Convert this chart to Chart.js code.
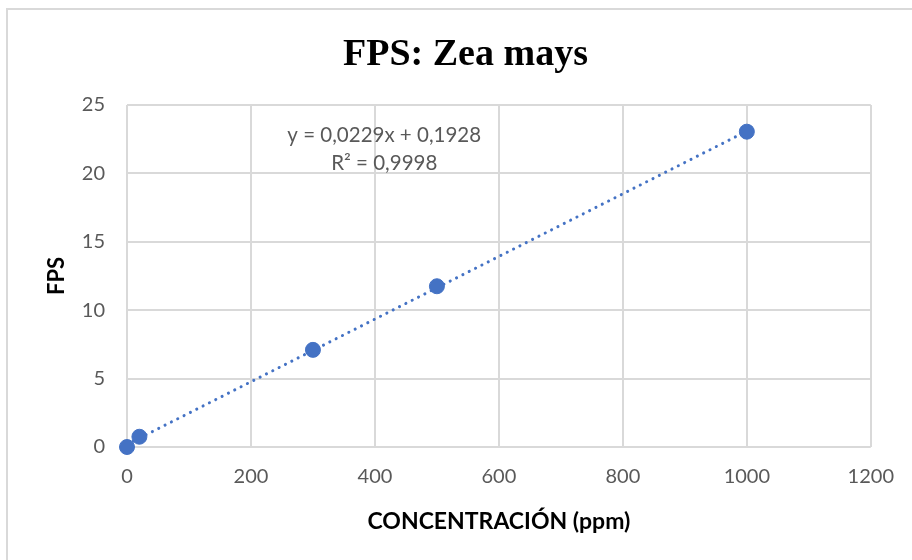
<!DOCTYPE html>
<html>
<head>
<meta charset="utf-8">
<script src="https://cdn.jsdelivr.net/npm/chart.js@4.4.0/dist/chart.umd.min.js"></script>
<style>
  html, body { margin: 0; padding: 0; background: #fff; }
  #wrap { position: relative; width: 912px; height: 560px; overflow: hidden; }
  #frame { position: absolute; left: 6px; top: 8px; width: 940px; height: 600px;
           border: 2px solid #d9d9d9; box-sizing: border-box; pointer-events: none; }
  canvas { position: absolute; left: 0; top: 0; }
</style>
</head>
<body>
<div id="wrap">
  <canvas id="c" width="912" height="560"></canvas>
  <div id="frame"></div>
</div>
<script>
const concentrations = [0, 20, 300, 500, 1000];
const fpsValues = [0, 0.75, 7.1, 11.75, 23.05];
const trendX = [0, 1000];
const trendY = [0.19, 23.09];
const xTicks = [0, 200, 400, 600, 800, 1000, 1200];
const yTicks = [0, 5, 10, 15, 20, 25];
const chartTitle = 'FPS: Zea mays';
const equationLines = ['y = 0,0229x + 0,1928', 'R² = 0,9998'];

const BLUE = '#4472C4';
const GRID = '#d9d9d9';
const TEXT = '#595959';
const SANS = 'Lato, "Open Sans", sans-serif';

const points = concentrations.map((x, i) => ({ x: x, y: fpsValues[i] }));
const trend = trendX.map((x, i) => ({ x: x, y: trendY[i] }));

const textPlugin = {
  id: 'texts',
  afterDatasetsDraw(chart) {
    const ctx = chart.ctx;
    const xs = chart.scales.x, ys = chart.scales.y;
    ctx.save();
    // equation
    ctx.fillStyle = TEXT;
    ctx.font = '20.5px ' + SANS;
    ctx.textAlign = 'center';
    ctx.textBaseline = 'middle';
    const cx = xs.getPixelForValue(415);
    ctx.fillText(equationLines[0], cx, ys.getPixelForValue(22.8));
    ctx.fillText(equationLines[1], cx, ys.getPixelForValue(20.7));
    // title
    ctx.fillStyle = '#000';
    ctx.font = 'bold 38px "Liberation Serif", "Times New Roman", serif';
    ctx.textBaseline = 'alphabetic';
    ctx.fillText(chartTitle, 465.5, 65);
    ctx.restore();
  }
};

new Chart(document.getElementById('c'), {
  type: 'scatter',
  data: {
    datasets: [
      {
        label: 'trend',
        data: trend,
        showLine: true,
        borderColor: BLUE,
        borderWidth: 3,
        borderDash: [0.1, 7],
        borderCapStyle: 'round',
        pointRadius: 0,
        clip: false,
        order: 2
      },
      {
        label: 'FPS',
        data: points,
        backgroundColor: BLUE,
        borderColor: BLUE,
        pointRadius: 7.5,
        clip: false,
        order: 1
      }
    ]
  },
  options: {
    responsive: false,
    animation: false,
    devicePixelRatio: 1,
    layout: { padding: { left: 0, right: 41, top: 105, bottom: 0 } },
    plugins: {
      legend: { display: false },
      tooltip: { enabled: false },
      title: { display: false }
    },
    scales: {
      x: {
        type: 'linear',
        min: 0, max: 1200,
        afterBuildTicks(s) { s.ticks = xTicks.map(v => ({ value: v })); },
        afterFit(s) { s.height = 113; },
        grid: { color: GRID, lineWidth: 2, drawTicks: false },
        border: { display: false },
        ticks: { color: TEXT, font: { family: SANS, size: 20 }, padding: 18,
                 callback: v => String(v) },
        title: {
          display: true,
          text: 'CONCENTRACIÓN (ppm)',
          color: '#000',
          font: { family: SANS, size: 23, weight: 'bold' },
          padding: { top: 0, bottom: 25 }
        }
      },
      y: {
        type: 'linear',
        min: 0, max: 25,
        afterBuildTicks(s) { s.ticks = yTicks.map(v => ({ value: v })); },
        afterFit(s) { s.width = 127; },
        grid: { color: GRID, lineWidth: 2, drawTicks: false },
        border: { display: false },
        ticks: { color: TEXT, font: { family: SANS, size: 20 }, padding: 22,
                 callback: v => String(v) },
        title: {
          display: true,
          text: 'FPS',
          color: '#000',
          font: { family: SANS, size: 22, weight: 'bold' },
          padding: { top: 44, bottom: 0 }
        }
      }
    }
  },
  plugins: [textPlugin]
});
</script>
</body>
</html>
